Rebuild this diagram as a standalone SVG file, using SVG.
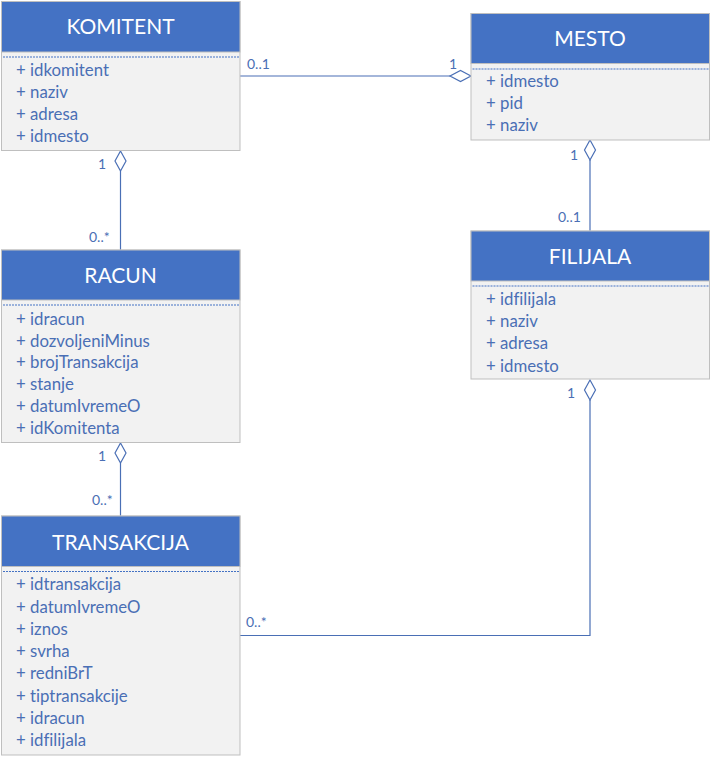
<svg xmlns="http://www.w3.org/2000/svg" width="711" height="762" viewBox="0 0 711 762">
<style>
text{font-variant-ligatures:none;font-feature-settings:"liga" 0}
.body{fill:#F2F2F2;stroke:#BFBFBF;stroke-width:1}
.head{fill:#4472C4;stroke:#BFBFBF;stroke-width:1}
.sep{stroke:#4472C4;stroke-width:1;stroke-dasharray:2,1;fill:none}
.title{font-family:Lato,"Liberation Sans",sans-serif;font-size:21px;fill:#FFFFFF;text-anchor:middle}
.attr{font-family:Lato,"Liberation Sans",sans-serif;font-size:16.8px;fill:#4A6FB5}
.mult{font-family:Lato,"Liberation Sans",sans-serif;font-size:14px;fill:#4A6FB5}
.conn{stroke:#4A6FB5;stroke-width:1.2;fill:none}
.dia{stroke:#4A6FB5;stroke-width:1.2;fill:#FFFFFF}
</style>
<rect width="711" height="762" fill="#FFFFFF"/>
<g id="connectors">
<line class="conn" x1="240" y1="76" x2="450" y2="76"/>
<polygon class="dia" points="471,76 460.5,70.5 450,76 460.5,81.5"/>
<line class="conn" x1="120.5" y1="171" x2="120.5" y2="250"/>
<polygon class="dia" points="120.5,151 126,161 120.5,171 115,161"/>
<line class="conn" x1="590" y1="160" x2="590" y2="231"/>
<polygon class="dia" points="590,140 595.5,150 590,160 584.5,150"/>
<line class="conn" x1="120.5" y1="463" x2="120.5" y2="516"/>
<polygon class="dia" points="120.5,443 126,453 120.5,463 115,453"/>
<polyline class="conn" points="590,400 590,635.5 240,635.5"/>
<polygon class="dia" points="590,380 595.5,390 590,400 584.5,390"/>
<text class="mult" x="247" y="69">0..1</text>
<text class="mult" x="449" y="69">1</text>
<text class="mult" x="98" y="169">1</text>
<text class="mult" x="89" y="242">0..*</text>
<text class="mult" x="570" y="160">1</text>
<text class="mult" x="558" y="222">0..1</text>
<text class="mult" x="98" y="461">1</text>
<text class="mult" x="92" y="505">0..*</text>
<text class="mult" x="567" y="398">1</text>
<text class="mult" x="246" y="627">0..*</text>
</g>
<g id="KOMITENT">
<rect class="body" x="1.5" y="1.5" width="238.5" height="149"/>
<rect class="head" x="1.5" y="1.5" width="238.5" height="50.5"/>
<line class="sep" x1="3" y1="57" x2="239" y2="57"/>
<text class="title" x="120.5" y="33.5">KOMITENT</text>
<text class="attr" x="16" y="75.5">+ idkomitent</text>
<text class="attr" x="16" y="97.5">+ naziv</text>
<text class="attr" x="16" y="119.5">+ adresa</text>
<text class="attr" x="16" y="141.5">+ idmesto</text>
</g>
<g id="MESTO">
<rect class="body" x="471" y="13.5" width="238.5" height="126.5"/>
<rect class="head" x="471" y="13.5" width="238.5" height="50"/>
<line class="sep" x1="472.5" y1="69" x2="708.5" y2="69"/>
<text class="title" x="590" y="45.5">MESTO</text>
<text class="attr" x="486" y="86.5">+ idmesto</text>
<text class="attr" x="486" y="109">+ pid</text>
<text class="attr" x="486" y="131">+ naziv</text>
</g>
<g id="FILIJALA">
<rect class="body" x="471" y="231" width="238.5" height="148"/>
<rect class="head" x="471" y="231" width="238.5" height="50"/>
<line class="sep" x1="472.5" y1="286" x2="708.5" y2="286"/>
<text class="title" x="590" y="263.5">FILIJALA</text>
<text class="attr" x="486" y="304.5">+ idfilijala</text>
<text class="attr" x="486" y="327">+ naziv</text>
<text class="attr" x="486" y="349">+ adresa</text>
<text class="attr" x="486" y="371.5">+ idmesto</text>
</g>
<g id="RACUN">
<rect class="body" x="1.5" y="250" width="238.5" height="192.5"/>
<rect class="head" x="1.5" y="250" width="238.5" height="50"/>
<line class="sep" x1="3" y1="305" x2="239" y2="305"/>
<text class="title" x="120.5" y="282.5">RACUN</text>
<text class="attr" x="16" y="324.5">+ idracun</text>
<text class="attr" x="16" y="346.5">+ dozvoljeniMinus</text>
<text class="attr" x="16" y="368">+ brojTransakcija</text>
<text class="attr" x="16" y="390">+ stanje</text>
<text class="attr" x="16" y="412">+ datumIvremeO</text>
<text class="attr" x="16" y="434">+ idKomitenta</text>
</g>
<g id="TRANSAKCIJA">
<rect class="body" x="1.5" y="516" width="238.5" height="239"/>
<rect class="head" x="1.5" y="516" width="238.5" height="50.5"/>
<line class="sep" x1="3" y1="571.5" x2="239" y2="571.5"/>
<text class="title" x="120.5" y="549.5">TRANSAKCIJA</text>
<text class="attr" x="16" y="590">+ idtransakcija</text>
<text class="attr" x="16" y="612.5">+ datumIvremeO</text>
<text class="attr" x="16" y="634.5">+ iznos</text>
<text class="attr" x="16" y="656.5">+ svrha</text>
<text class="attr" x="16" y="679">+ redniBrT</text>
<text class="attr" x="16" y="701.5">+ tiptransakcije</text>
<text class="attr" x="16" y="723.5">+ idracun</text>
<text class="attr" x="16" y="746">+ idfilijala</text>
</g>
</svg>
